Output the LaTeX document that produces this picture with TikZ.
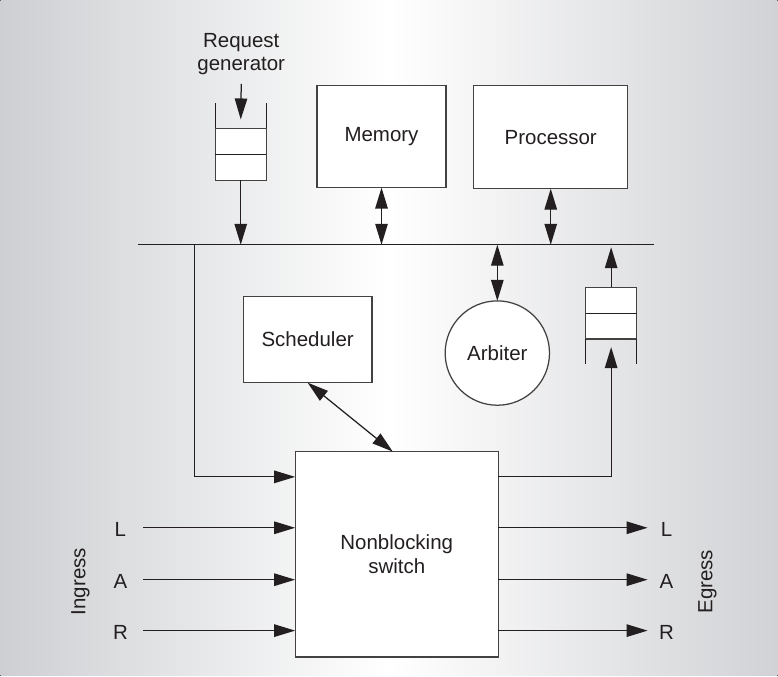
\documentclass[tikz,border=0pt]{standalone}
\usepackage{fontspec}
\setmainfont{Liberation Sans}
\usetikzlibrary{arrows.meta,calc}
\definecolor{ink}{HTML}{231F20}
\definecolor{bgl}{HTML}{CDCFD2}
\definecolor{bgr}{HTML}{D1D2D5}
\begin{document}
\begin{tikzpicture}[x=1pt,y=-1pt,
  font=\fontsize{20.5}{23.5}\selectfont,
  line width=1.25pt,
  every path/.style={draw=ink},
  tip/.style={-{Triangle[length=21pt,width=12.5pt]}},
  dtip/.style={{Triangle[length=21pt,width=12.5pt]}-{Triangle[length=21pt,width=12.5pt]}},
  blk/.style={draw=ink!85, fill=white, inner sep=0pt, outer sep=0pt, text=ink},
  lbl/.style={inner sep=0pt, outer sep=0pt, text=ink},
  io/.style={lbl, minimum width=24pt}]
\useasboundingbox (0,0) rectangle (778,676);
\shade[draw=none, left color=bgl, right color=bgr, middle color=white] (0,0) rectangle (778,676);

% request generator and its queue
\node[lbl, align=center] (req) at (241,53.5) {Request\\generator};
\node[blk, minimum width=51pt, minimum height=52pt] (q1) at (240.5,154) {};
\draw (q1.west) -- (q1.east);
\draw (q1.north west) -- ++(0,-25);
\draw (q1.north east) -- ++(0,-25);
\draw[tip] ([yshift=-9pt]req.south) -- ([yshift=9pt]q1.north);

% bus
\coordinate (busL) at (138,244.5);
\coordinate (busR) at (654,244.5);
\coordinate (fd) at (194,244.5);
\draw (busL) -- (busR);
\draw[tip] (q1.south) -- (q1.south |- busL);

% memory and processor
\node[blk, minimum width=129pt, minimum height=102.5pt] (mem) at (381.5,136) {Memory};
\node[blk, minimum width=154pt, minimum height=103.3pt] (proc) at (551,136.7) {Processor};
\draw[dtip] (mem.south) -- (mem.south |- busL);
\draw[dtip] (proc.south) -- (proc.south |- busL);

% arbiter
\node[blk, circle, minimum size=104.5pt] (arb) at (497.5,353) {Arbiter};
\draw[dtip] (arb.north |- busL) -- (arb.north);

% scheduler
\node[blk, minimum width=129pt, minimum height=86.3pt] (sch) at (307.5,339.5) {Scheduler};

% output queue
\node[blk, minimum width=51pt, minimum height=52pt] (q2) at (611.5,313) {};
\draw (q2.west) -- (q2.east);
\draw (q2.south west) -- ++(0,25);
\draw (q2.south east) -- ++(0,25);
\draw[tip] (q2.north) -- ([yshift=-2.5pt]q2.north |- busL);

% switch
\node[blk, align=center, minimum width=203.5pt, minimum height=205.8pt] (sw) at (396.75,554.6) {Nonblocking\\switch};
\draw[tip] (fd) |- ([yshift=-25.3pt]sw.north west);
\draw[tip] ([yshift=-25.3pt]sw.north east) -| ([yshift=-8pt]q2.south);
\draw[dtip] (sch.south) -- ([xshift=-4pt]sw.north);

% ingress
\node[io] (inL) at (120,529.5) {L};
\node[io] (inA) at (120,581.5) {A};
\node[io] (inR) at (120,632.5) {R};
\foreach \n in {inL,inA,inR}{
  \draw[tip, shorten <=11pt] ([yshift=1.5pt]\n.east) -- ([yshift=1.5pt]\n.east -| sw.west);
}
\node[lbl, rotate=90] (ing) at (80,582) {Ingress};

% egress
\node[io] (outL) at (667,529.5) {L};
\node[io] (outA) at (667,581.5) {A};
\node[io] (outR) at (667,632.5) {R};
\foreach \n in {outL,outA,outR}{
  \draw[tip, shorten >=7pt] ([yshift=1.5pt]\n.west -| sw.east) -- ([yshift=1.5pt]\n.west);
}
\node[lbl, rotate=90] (eg) at (708,582) {Egress};
\end{tikzpicture}
\end{document}
